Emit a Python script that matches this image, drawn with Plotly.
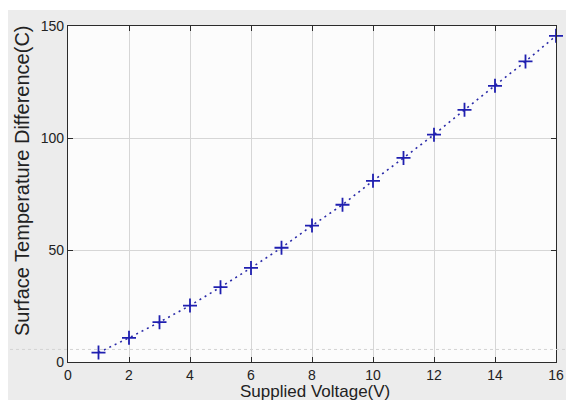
import plotly.graph_objects as go

# Measured surface temperature difference versus supplied voltage
voltage = [1, 2, 3, 4, 5, 6, 7, 8, 9, 10, 11, 12, 13, 14, 15, 16]
temp_diff = [4.2, 10.8, 17.8, 25.2, 33.4, 42.0, 51.0, 60.9, 70.2, 80.9,
             91.1, 101.5, 112.6, 123.3, 134.2, 145.6]

x_ticks = [0, 2, 4, 6, 8, 10, 12, 14, 16]
y_ticks = [0, 50, 100, 150]

W, H = 566, 400
ml, mr, mt, mb = 68, 10, 26, 38
pw, ph = W - ml - mr, H - mt - mb
FONT = "Liberation Sans, Arial, sans-serif"


def px_x(px):
    """Horizontal pixel position -> paper coordinate."""
    return (px - ml) / pw


def px_y(py):
    """Vertical pixel position (from top) -> paper coordinate."""
    return (H - mb - py) / ph


fig = go.Figure()
fig.add_trace(go.Scatter(
    x=voltage, y=temp_diff,
    mode="lines+markers",
    line=dict(color="#2a2aa8", width=1.6, dash="2px,4px"),
    marker=dict(symbol="cross-thin", size=10,
                line=dict(color="#1f1fb0", width=1.8)),
    cliponaxis=False,
    showlegend=False,
))

# white strips along the top and left edges of the grey figure
fig.add_shape(type="rect", xref="paper", yref="paper", layer="below",
              x0=px_x(0), x1=px_x(W), y0=px_y(10), y1=px_y(0),
              fillcolor="white", line_width=0)
fig.add_shape(type="rect", xref="paper", yref="paper", layer="below",
              x0=px_x(0), x1=px_x(8), y0=px_y(H), y1=px_y(0),
              fillcolor="white", line_width=0)
# faint dotted reference line crossing the whole figure
fig.add_shape(type="line", xref="paper", yref="y", layer="above",
              x0=px_x(10), x1=px_x(W), y0=5.6, y1=5.6,
              line=dict(color="#d4d4d4", width=1, dash="dot"))

axis_common = dict(
    showline=True, linecolor="#2b2b2b", linewidth=1.2, mirror="allticks",
    ticks="inside", ticklen=5, tickcolor="#2b2b2b", tickwidth=1,
    showgrid=True, gridcolor="#d6d6d6", gridwidth=1, zeroline=False,
    automargin=False,
    tickfont=dict(family=FONT, size=14, color="#222222"),
)

fig.update_xaxes(range=[0, 16], tickvals=x_ticks, **axis_common)
fig.update_yaxes(range=[0, 150], tickvals=y_ticks, **axis_common)

# axis titles
fig.add_annotation(text="Supplied Voltage(V)", xref="paper", yref="paper",
                   x=px_x(315), y=px_y(392), showarrow=False,
                   xanchor="center", yanchor="middle",
                   font=dict(family=FONT, size=17, color="#222222"))
fig.add_annotation(text="Surface Temperature Difference(C)", xref="paper",
                   yref="paper", x=px_x(22), y=px_y(181), showarrow=False,
                   textangle=-90, xanchor="center", yanchor="middle",
                   font=dict(family=FONT, size=20, color="#222222"))

fig.update_layout(
    width=W, height=H,
    autosize=False,
    margin=dict(l=ml, r=mr, t=mt, b=mb, autoexpand=False),
    paper_bgcolor="#ececec",
    plot_bgcolor="#fcfcfc",
)

fig.write_html("out.html")
